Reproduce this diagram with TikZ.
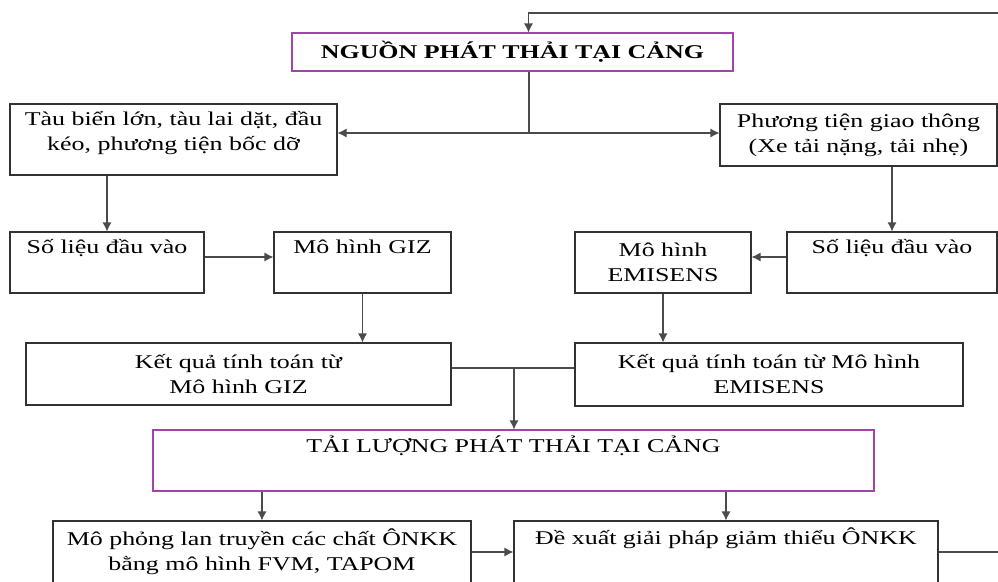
\documentclass[tikz,border=0pt]{standalone}
\usepackage{fontspec}
\setmainfont[FakeStretch=1.33]{Liberation Serif}
\usepackage{tikz}
\usetikzlibrary{arrows.meta}
\definecolor{framegray}{RGB}{50,50,50}
\definecolor{linegray}{RGB}{75,75,75}
\definecolor{portpurple}{RGB}{160,70,170}
\tikzset{
  box/.style={draw=framegray, line width=1.1pt, align=center, inner sep=0pt,
    font=\fontsize{19.5}{25}\selectfont},
  keybox/.style={box, draw=portpurple},
}

\begin{document}
\begin{tikzpicture}[x=1pt, y=-1pt, >={Latex[length=9pt,width=9pt]}, line width=1.1pt]
  \useasboundingbox (0,0) rectangle (998,581);
  \clip (0,0) rectangle (998,581);
  % sources
  \node[keybox, minimum width=441pt, minimum height=38pt,
    font=\fontsize{19.5}{25}\selectfont\bfseries] (src) at (512.5,52) {NGUỒN PHÁT THẢI TẠI CẢNG};
  \node[box, minimum width=327pt, minimum height=71pt] (ship) at (173.5,139.5)
    {Tàu biển lớn, tàu lai dặt, đầu\\kéo, phương tiện bốc dỡ\\[-16pt]\strut};
  \node[box, minimum width=277pt, minimum height=62pt] (road) at (858.5,135)
    {Phương tiện giao thông\\(Xe tải nặng, tải nhẹ)};
  % inputs and models
  \node[box, minimum width=194pt, minimum height=61pt] (inL) at (107,262.5) {Số liệu đầu vào\\\strut};
  \node[box, minimum width=177pt, minimum height=61pt] (giz) at (362.5,262.5) {Mô hình GIZ\\\strut};
  \node[box, minimum width=176pt, minimum height=61pt] (emis) at (663,262.5) {Mô hình\\EMISENS};
  \node[box, minimum width=210pt, minimum height=61pt] (inR) at (892,262.5) {Số liệu đầu vào\\\strut};
  % results
  \node[box, minimum width=425pt, minimum height=62pt] (resL) at (238.5,374)
    {Kết quả tính toán từ\\Mô hình GIZ};
  \node[box, minimum width=388pt, minimum height=63pt] (resR) at (769,374.5)
    {Kết quả tính toán từ Mô hình\\EMISENS};
  \node[keybox, minimum width=721pt, minimum height=61pt] (load) at (513.5,460.5)
    {TẢI LƯỢNG PHÁT THẢI TẠI CẢNG\\\strut};
  \node[box, minimum width=418pt, minimum height=62pt] (sim) at (262,552)
    {Mô phỏng lan truyền các chất ÔNKK\\bằng mô hình FVM, TAPOM};
  \node[box, minimum width=424pt, minimum height=62pt] (act) at (726,552)
    {Đề xuất giải pháp giảm thiểu ÔNKK\\\strut};

  \coordinate (fork) at (529,133);
  \coordinate (merge) at (514,368);
  \coordinate (rim) at (1010,13);

  \draw[linegray] (src.south -| fork) -- (fork);
  \draw[linegray, <->] (ship.east |- fork) -- (road.west |- fork);
  \draw[linegray] (resL.east |- merge) -- (resR.west |- merge);
  \path[->, linegray]
  (ship.south -| inL.north) edge (inL.north)
  ([yshift=5.5pt]inL.east)  edge ([yshift=5.5pt]giz.west)
  (giz.south)               edge (giz.south |- resL.north)
  (road.south -| inR.north) edge (inR.north)
  ([yshift=5.5pt]inR.west)  edge ([yshift=5.5pt]emis.east)
  (emis.south)              edge (emis.south |- resR.north)
  (merge)                   edge (merge |- load.north)
  (load.south -| sim.north) edge (sim.north)
  (load.south -| act.north) edge (act.north)
  (sim.east)                edge (act.west)
  ;
  \draw[->, linegray] (act.east) -| (rim) -| ([xshift=16pt]src.north);
\end{tikzpicture}
\end{document}
